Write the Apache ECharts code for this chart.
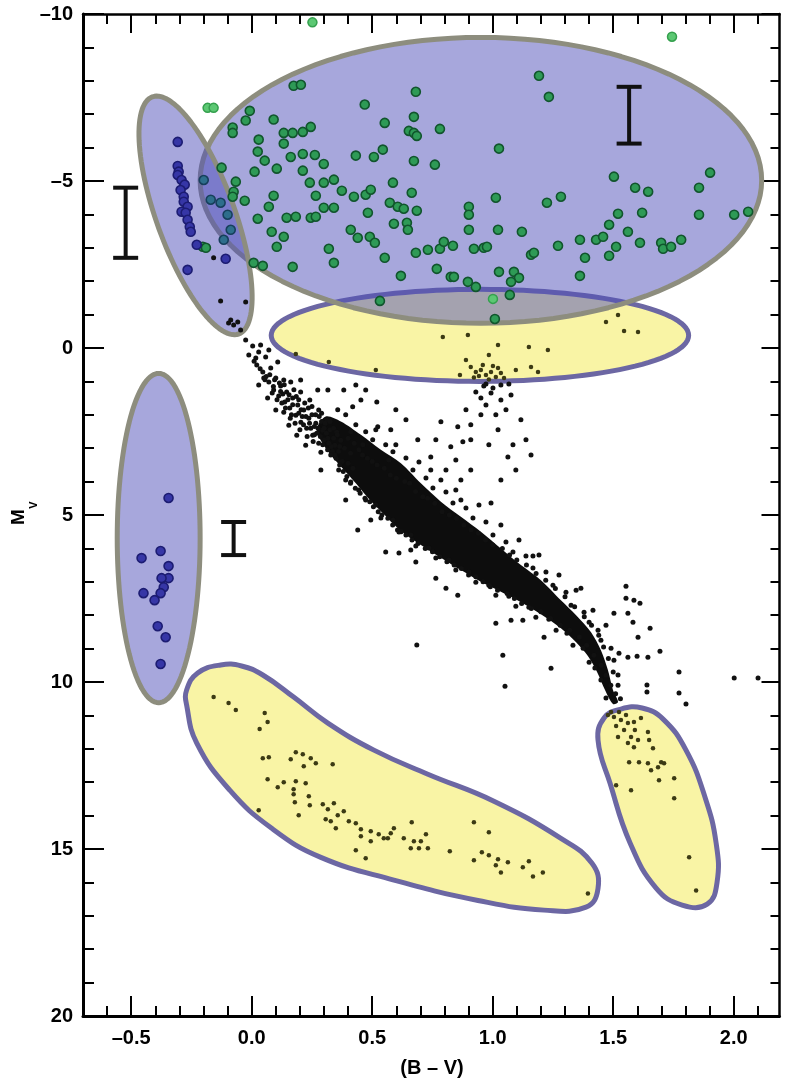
<!DOCTYPE html>
<html><head><meta charset="utf-8">
<script src="https://cdn.jsdelivr.net/npm/echarts@6/dist/echarts.min.js"></script>
<style>html,body{margin:0;padding:0;background:#fff}#c{width:785px;height:1083px}</style>
</head><body><div id="c"></div>
<script>
// ---------- tick labels ----------
const xMajorTicks = [-0.5, 0, 0.5, 1, 1.5, 2];
const xMinorTicks = [-0.6,-0.4,-0.3,-0.2,-0.1,0.1,0.2,0.3,0.4,0.6,0.7,0.8,0.9,1.1,1.2,1.3,1.4,1.6,1.7,1.8,1.9,2.1];
const yMajorStep = 5;

// ---------- stars: [B-V, Mv] ----------
const greenOutside = [[0.252,-9.75],[1.744,-9.32],[-0.183,-7.19],[-0.158,-7.19],[1.001,-1.47]];
const greenInside = [[0.174,-7.85],[0.204,-7.88],[-0.008,-7.10],[-0.025,-6.81],[-0.079,-6.60],[-0.079,-6.44],[0.091,-6.84],[0.133,-6.44],[0.170,-6.44],[0.212,-6.47],[0.245,-6.62],[0.029,-6.24],[0.025,-5.88],[0.133,-6.12],[0.054,-5.61],[0.162,-5.72],[0.212,-5.81],[0.262,-5.78],[0.299,-5.51],[-0.125,-5.40],[0.012,-5.28],[0.104,-5.37],[0.212,-5.31],[-0.066,-4.98],[-0.075,-4.68],[-0.079,-4.53],[-0.029,-4.41],[0.241,-4.95],[0.299,-4.95],[0.341,-5.04],[0.266,-4.56],[0.091,-4.56],[0.071,-4.23],[0.374,-4.71],[0.424,-4.53],[0.473,-4.59],[0.494,-4.74],[0.432,-5.76],[0.507,-5.72],[0.544,-5.94],[0.469,-7.29],[0.552,-6.74],[0.673,-6.92],[0.681,-7.67],[0.652,-6.50],[0.673,-6.44],[0.685,-6.35],[0.781,-6.56],[0.673,-5.60],[0.760,-5.49],[0.586,-4.95],[0.664,-4.65],[0.573,-4.35],[0.606,-4.23],[0.631,-4.17],[0.685,-4.11],[0.482,-4.05],[0.590,-3.72],[0.644,-3.75],[0.648,-3.54],[0.025,-3.87],[0.145,-3.90],[0.183,-3.93],[0.245,-3.90],[0.266,-3.93],[0.299,-4.20],[0.341,-4.20],[0.083,-3.48],[0.133,-3.33],[0.104,-3.03],[0.411,-3.54],[0.440,-3.30],[0.490,-3.33],[0.511,-3.15],[0.320,-2.97],[0.341,-2.55],[0.552,-2.70],[0.170,-2.43],[0.008,-2.55],[0.046,-2.46],[0.619,-2.16],[0.681,-2.85],[0.731,-2.94],[0.781,-2.97],[0.797,-3.18],[0.835,-3.06],[0.768,-2.37],[0.826,-2.13],[0.839,-2.13],[0.901,-4.23],[0.901,-3.99],[0.901,-3.54],[0.922,-2.97],[0.963,-3.00],[0.976,-3.03],[0.897,-1.98],[0.930,-1.83],[1.013,-4.50],[1.022,-3.54],[1.026,-2.28],[1.026,-5.97],[-0.203,-3.03],[-0.190,-3.00],[1.192,-8.15],[1.233,-7.52],[1.225,-4.35],[1.283,-4.53],[1.503,-5.13],[1.591,-4.80],[1.645,-4.68],[1.856,-4.80],[1.902,-5.25],[1.520,-4.02],[1.620,-4.05],[1.856,-3.99],[2.002,-3.99],[2.060,-4.08],[1.121,-3.48],[1.271,-3.06],[1.362,-3.24],[1.159,-2.79],[1.171,-2.85],[1.383,-2.70],[1.429,-3.24],[1.458,-3.33],[1.483,-3.69],[1.512,-3.03],[1.483,-2.76],[1.561,-3.48],[1.611,-3.15],[1.699,-3.15],[1.707,-2.97],[1.740,-3.03],[1.782,-3.24],[1.362,-2.16],[1.088,-2.28],[1.109,-2.10],[1.076,-1.98],[1.071,-1.59],[1.009,-0.87],[0.532,-1.41]];
const blueUpper = [[-0.307,-6.17],[-0.307,-5.45],[-0.303,-5.28],[-0.307,-5.18],[-0.291,-5.03],[-0.278,-4.89],[-0.295,-4.73],[-0.282,-4.53],[-0.282,-4.38],[-0.266,-4.23],[-0.291,-4.08],[-0.274,-4.05],[-0.266,-3.84],[-0.257,-3.63],[-0.253,-3.48],[-0.228,-3.09],[-0.108,-2.67],[-0.266,-2.34]];
const blueLens = [[-0.199,-5.03],[-0.170,-4.44],[-0.129,-4.35],[-0.100,-3.99],[-0.087,-3.54],[-0.116,-3.24]];
const blueLower = [[-0.345,4.49],[-0.378,6.08],[-0.457,6.29],[-0.345,6.53],[-0.345,6.89],[-0.374,6.89],[-0.365,7.16],[-0.378,7.34],[-0.449,7.34],[-0.403,7.55],[-0.390,8.33],[-0.357,8.66],[-0.378,9.46]];
const msStars = [[-0.158,-2.70],[-0.129,-1.41],[-0.025,-1.38],[-0.096,-0.75],[-0.075,-0.69],[-0.058,-0.78],[-0.087,-0.84],
[-0.046,-0.54],[-0.025,-0.24],[0.004,-0.06],[0.029,0.12],[-0.012,0.21],[0.058,0.27],[0.021,0.51],[0.079,0.60],[0.046,0.72],[0.100,0.90],[0.071,1.02],[0.120,1.14],[0.091,1.26],[0.145,1.32],[0.112,1.44],[0.170,1.50],[0.137,1.62],[0.191,1.71],[0.158,1.80],[0.216,1.86],[0.183,2.01],[0.133,1.92],[0.237,2.10],[0.204,2.22],[0.266,2.25],[0.228,2.40],[0.295,2.46],[0.253,2.61],[0.316,2.70],[0.278,2.85],[0.345,2.91],[0.037,-0.09],[0.071,0.06],[0.017,0.30],[0.108,0.42],[0.050,0.90],[0.162,1.02],[0.129,1.38],[0.203,1.32],[0.241,1.56],[0.278,1.86],[0.311,2.16],[0.353,2.52],[0.370,2.76],[0.187,2.61],[0.224,2.91],[0.287,3.12],[0.154,2.31],[0.100,1.86],[0.066,1.50],[0.029,1.11],
[0.150,1.55],[0.175,1.25],[0.195,1.95],[0.220,1.65],[0.250,2.00],[0.260,2.35],[0.290,2.20],[0.300,2.75],[0.325,2.45],[0.330,2.95],[0.210,2.05],[0.240,2.25],[0.270,2.55],[0.165,2.00],[0.125,1.65],[0.090,1.15],[0.060,0.85],[0.115,1.05],[0.185,1.45],[0.235,1.80],[0.280,2.05],[0.300,2.40],[0.340,2.70],[0.315,3.05],[0.255,2.80],[0.350,3.30],[0.360,3.10],[0.375,3.40],[0.385,3.00],[0.400,3.45],[0.410,3.15],[0.420,3.60],
[0.010,0.40],[0.035,0.62],[0.055,0.95],[0.075,0.80],[0.085,1.35],[0.095,0.95],[0.105,1.55],[0.120,1.30],[0.135,1.10],[0.140,1.80],[0.155,1.40],[0.160,2.10],[0.170,1.70],[0.180,2.25],[0.195,1.55],[0.200,2.45],[0.205,1.85],[0.215,2.30],[0.225,2.05],[0.230,2.65],[0.245,2.40],[0.250,1.75],[0.260,2.60],[0.265,2.00],[0.275,2.40],[0.285,2.65],[0.290,1.95],[0.295,2.90],[0.305,2.25],[0.310,2.55],[0.320,2.85],[0.325,2.20],[0.335,3.10],[0.340,2.40],[0.345,3.20],[0.355,2.60],[0.365,2.95],[0.365,3.50],[0.380,3.70],[0.395,3.85],[0.400,2.70],[0.410,4.05],[0.425,2.85],[0.430,4.20],[0.445,3.05],[0.450,4.35],[0.460,3.20],[0.470,4.50],[0.480,3.30],[0.490,4.60],[0.500,3.40],[0.505,4.75],[0.520,3.50],[0.525,4.90],[0.540,5.00],[0.550,3.60],[0.565,5.10],[0.575,3.80],[0.585,5.30],[0.600,3.90],[0.605,5.45],[0.620,5.50],[0.635,4.00],[0.640,5.60],[0.655,4.05],[0.665,5.75],[0.680,4.30],[0.690,5.85],[0.710,4.45],[0.720,6.00],[0.730,4.50],[0.750,6.10],[0.760,4.65],[0.780,6.25],[0.790,4.90],[0.810,6.40],[0.820,5.00],[0.840,6.50],[0.850,5.10],[0.870,6.60],[0.880,5.30],[0.900,6.80],[0.910,5.45],[0.930,6.85],[0.940,5.55],[0.960,7.00],[0.970,5.75],[0.990,7.15],[1.000,5.90],[1.020,7.25],[1.040,6.00],[1.060,7.35],[1.070,6.20],[1.090,7.50],[1.100,6.35],[1.120,7.65],[1.140,6.50],[1.160,7.80],[1.180,6.75],[1.200,7.90],[1.220,6.95],[1.240,8.10],[1.260,7.20],[1.280,8.30],[1.300,7.45],[1.320,8.45],[1.340,7.75],[1.360,8.65],[1.380,8.05],[1.390,8.90],[1.410,8.30],[1.420,9.20],[1.440,8.60],[1.450,9.50],[1.460,8.95],[1.470,9.80],[1.480,9.30],[1.490,10.10],[1.500,9.70],[1.510,10.35],[1.520,10.10],[1.530,10.50],
[0.390,2.00],[0.432,2.30],[0.473,2.51],[0.502,2.75],[0.556,2.90],[0.586,3.11],[0.640,3.29],[0.669,3.65],[0.723,3.89],[0.752,4.19],[0.806,4.31],[0.835,4.64],[0.889,4.79],[0.918,5.09],[0.972,5.21],[1.001,5.60],[1.055,5.81],[1.084,6.11],[1.138,6.23],[1.167,6.59],[1.221,6.71],[1.250,7.10],[1.304,7.31],[1.325,7.70],[1.379,7.91],[1.400,8.21],[1.437,8.45],[1.449,8.75],[1.491,8.99],[1.503,9.35],[1.520,9.79],
[0.411,2.51],[0.461,2.90],[0.515,2.45],[0.598,2.90],[0.569,3.35],[0.694,3.41],[0.743,3.65],[0.785,3.95],[0.847,4.25],[0.868,4.55],[0.943,4.70],[1.034,5.30],[1.109,5.75],[1.192,6.20],[1.275,6.80],[1.346,7.25],[1.416,7.85],[1.470,8.30],
[0.328,3.20],[0.361,3.65],[0.411,4.01],[0.444,4.25],[0.473,4.55],[0.515,4.70],[0.536,5.09],[0.586,5.15],[0.611,5.51],[0.660,5.60],[0.681,5.93],[0.735,5.99],[0.764,6.29],[0.818,6.35],[0.847,6.65],[0.901,6.71],[0.930,7.01],[0.984,7.10],[1.013,7.40],[1.067,7.43],[1.096,7.73],[1.150,7.76],[1.179,8.06],[1.233,8.12],[1.263,8.45],[1.308,8.54],[1.333,8.90],[1.375,8.99],[1.400,9.41],[1.424,9.58],[1.449,9.94],[1.470,10.48],
[0.440,5.45],[0.556,6.11],[0.611,6.14],[0.660,6.05],[0.681,6.41],[0.764,6.89],[0.806,7.19],[0.855,7.40],[1.013,8.24],[1.076,8.15],[1.125,8.15],[1.213,8.66],[0.685,8.89],[1.042,9.20],[1.242,9.59],[1.051,10.13],[0.287,3.65],[0.390,4.55],[0.494,5.15],[0.390,3.95],
[0.453,1.56],[0.419,1.76],[0.357,1.85],[0.382,1.26],[0.316,1.26],[0.274,1.26],[0.203,0.96],[0.133,0.96],[0.523,2.36],[0.577,2.45],[0.689,2.75],[0.743,3.26],[0.826,2.96],[0.909,2.75],[0.785,2.21],[0.855,2.36],[0.951,1.50],[0.993,1.35],[1.022,2.45],[1.063,3.26],[0.993,4.64],[0.909,3.65],[0.868,3.95],[0.806,3.65],[1.117,2.15],[1.076,1.41],[1.138,2.75],[0.951,2.00],[1.055,1.85],[0.889,1.85],[0.847,3.35],[1.034,3.95],[1.096,3.65],[1.001,1.20],[0.930,1.32],[1.034,1.56],[0.972,1.71],[1.013,2.00],[0.909,2.30],[1.159,3.20],[1.084,2.90],[0.984,2.90],[0.876,2.81],[0.764,2.75],[0.640,2.15],[0.598,1.85],[0.519,1.62],[0.473,1.26],[0.432,1.11],[1.034,1.11],[1.067,1.08],[0.963,1.14],[0.972,1.08],
[1.167,6.23],[1.366,7.19],[1.553,7.13],[1.553,7.49],[1.586,7.55],[1.611,7.64],[1.503,7.94],[1.561,7.94],[1.582,8.21],[1.653,8.39],[1.603,8.66],[1.694,9.08],[1.524,9.14],[1.561,9.26],[1.599,9.23],[1.644,9.26],[1.773,9.70],[1.640,10.09],[1.640,10.30],[1.773,10.33],[1.802,10.66],[2.002,9.88],[2.101,9.88]];
const clumpStars = [[0.183,0.18],[0.320,0.42],[0.515,0.66],[0.793,-0.33],[0.897,-0.39],[1.022,-0.09],[1.150,-0.03],[1.229,0.06],[0.984,0.21],[1.188,0.72],[1.159,0.57],[1.470,-0.78],[1.545,-0.51],[1.603,-0.48],[1.520,-0.99],[0.909,0.57],[0.930,0.72],[0.951,0.66],[0.972,0.81],[0.993,0.72],[1.013,0.87],[1.034,0.75],[1.047,0.90],[0.943,0.84],[0.984,0.94],[0.959,0.51],[1.001,0.54],[0.922,0.88],[1.022,0.60],[1.096,0.66],[0.889,0.36],[0.864,0.81]];
const whiteDwarfStars = [[-0.158,10.45],[-0.096,10.63],[-0.066,10.84],[0.054,10.93],[0.066,11.20],[0.033,11.41],[0.046,12.28],[0.071,12.25],[0.183,12.10],[0.212,12.16],[0.245,12.28],[0.266,12.43],[0.162,12.31],[0.216,12.52],[0.336,12.46],[0.066,12.91],[0.133,13.00],[0.108,13.15],[0.183,12.97],[0.224,13.03],[0.174,13.21],[0.174,13.36],[0.179,13.60],[0.237,13.42],[0.241,13.69],[0.029,13.84],[0.195,13.99],[0.295,13.66],[0.316,13.81],[0.341,13.63],[0.357,13.99],[0.307,14.11],[0.328,14.17],[0.382,13.87],[0.349,14.38],[0.403,14.17],[0.432,14.23],[0.453,14.41],[0.453,14.62],[0.494,14.47],[0.527,14.56],[0.548,14.68],[0.577,14.53],[0.590,14.38],[0.494,14.77],[0.565,14.68],[0.432,15.04],[0.473,15.28],[0.631,14.68],[0.660,14.98],[0.673,14.77],[0.694,14.98],[0.702,14.77],[0.731,14.98],[0.723,14.56],[0.664,14.20],[0.822,15.07],[0.922,14.20],[0.984,14.50],[0.922,15.34],[0.955,15.10],[0.984,15.19],[1.013,15.49],[1.022,15.31],[1.034,15.70],[1.063,15.40],[1.125,15.55],[1.150,15.37],[1.167,15.82],[1.208,15.70],[1.395,16.33]];
const redDwarfStars = [[1.503,11.05],[1.532,11.14],[1.561,11.23],[1.586,11.20],[1.545,11.44],[1.520,11.65],[1.574,11.65],[1.603,11.74],[1.561,11.83],[1.586,11.95],[1.644,11.50],[1.649,11.74],[1.665,11.98],[1.566,12.40],[1.607,12.40],[1.644,12.43],[1.657,12.64],[1.686,12.55],[1.699,12.40],[1.711,12.43],[1.690,12.94],[1.753,12.88],[1.512,13.09],[1.574,13.24],[1.753,13.48],[1.815,15.25],[1.844,16.24],[1.491,10.90],[1.524,10.90],[1.553,10.99],[1.478,10.99],[1.615,11.08],[1.512,11.32],[1.590,11.44]];

// ---------- dense main-sequence envelope and region outlines ----------
const msCoreOutline = [[0.307,2.05],[0.370,2.20],[0.453,2.60],[0.536,3.05],[0.619,3.45],[0.702,4.05],[0.785,4.60],[0.868,5.05],[0.951,5.50],[1.034,6.00],[1.117,6.50],[1.200,6.95],[1.283,7.55],[1.346,8.00],[1.408,8.51],[1.449,9.05],[1.478,9.64],[1.499,10.24],[1.520,10.60],[1.499,10.66],[1.466,10.24],[1.433,9.70],[1.395,9.22],[1.346,8.81],[1.283,8.39],[1.200,7.97],[1.117,7.61],[1.034,7.30],[0.951,7.00],[0.868,6.65],[0.785,6.28],[0.702,5.90],[0.619,5.48],[0.556,5.03],[0.494,4.58],[0.432,4.05],[0.370,3.55],[0.307,3.00],[0.270,2.45]];
const wdRegionOutline = [[-0.129,9.49],[-0.224,9.73],[-0.270,10.24],[-0.270,10.69],[-0.228,11.83],[-0.091,13.24],[0.083,14.38],[0.287,15.25],[0.590,15.93],[0.939,16.54],[1.213,16.83],[1.387,16.74],[1.437,16.18],[1.412,15.43],[1.283,14.68],[1.005,13.57],[0.731,12.76],[0.507,12.04],[0.316,11.23],[0.174,10.45],[0.046,9.79],[-0.042,9.52]];
const rdRegionOutline = [[1.532,10.81],[1.462,11.08],[1.437,11.74],[1.487,13.03],[1.570,14.82],[1.678,16.17],[1.786,16.68],[1.890,16.65],[1.931,15.99],[1.927,14.82],[1.881,13.45],[1.802,12.04],[1.707,11.11],[1.620,10.78]];
// ellipses: [centre B-V, centre Mv, axis1 dBV, axis1 dMv, axis2 dBV, axis2 dMv]
const ellSupergiants = [0.951, -5.02, 1.165, 0, 0, 4.28];
const ellBrightBlue = [-0.233, -3.97, 0.179, 3.55, -0.152, 0.40];
const ellLowerBlue = [-0.386, 5.69, 0.172, 0, 0, 4.93];
const ellRedGiants = [0.947, -0.378, 0.866, 0, 0, 1.378];

// ---------- typical error bars ----------
const errBarX = [-0.523, 1.566, -0.075];
const errBarTop = [-4.80, -7.82, 5.21];
const errBarBottom = [-2.70, -6.12, 6.20];

// ---------- rendering ----------
const FONT = '"Liberation Sans", Arial, Helvetica, sans-serif';
function ellPts(api, e) {
  const pts = [];
  for (let i = 0; i < 120; i++) {
    const t = i / 120 * Math.PI * 2;
    pts.push(api.coord([e[0] + e[2] * Math.cos(t) + e[4] * Math.sin(t), e[1] + e[3] * Math.cos(t) + e[5] * Math.sin(t)]));
  }
  return pts;
}
function outPts(api, arr) { return arr.map(p => api.coord(p)); }
function shape(id, getPts, fill, stroke, lw, z, smooth) {
  return {
    type: 'custom', id: id, coordinateSystem: 'cartesian2d', data: [[0.5, 5]], z: z, silent: true, clip: false,
    renderItem: (p, api) => ({
      type: 'polygon',
      shape: { points: getPts(api), smooth: smooth || 0 },
      style: { fill: fill, stroke: stroke || null, lineWidth: lw, lineJoin: 'round' }
    })
  };
}
const YELLOW = '#f9f4a5', PURPLE = '#6c67a3', BLUE = 'rgba(80,80,185,0.5)', GREY = '#8d8d7e';

const series = [
  shape('rg', api => ellPts(api, ellRedGiants), YELLOW, PURPLE, 5, 1),
  shape('wd', api => outPts(api, wdRegionOutline), YELLOW, PURPLE, 5, 1, 0.45),
  shape('rd', api => outPts(api, rdRegionOutline), YELLOW, PURPLE, 5, 1, 0.45),
  shape('sg', api => ellPts(api, ellSupergiants), BLUE, GREY, 5, 2),
  shape('bb', api => ellPts(api, ellBrightBlue), BLUE, GREY, 5, 2),
  shape('lb', api => ellPts(api, ellLowerBlue), BLUE, GREY, 5, 2),
  shape('core', api => outPts(api, msCoreOutline), '#0d0d0d', null, 0, 3, 0.3),
  { type: 'scatter', data: msStars, symbolSize: 5, z: 4, silent: true, itemStyle: { color: '#111', opacity: 1 } },
  { type: 'scatter', data: clumpStars.concat(whiteDwarfStars, redDwarfStars), symbolSize: 4.5, z: 4, silent: true, itemStyle: { color: '#3c3a14', opacity: 1 } },
  { type: 'scatter', data: greenInside, symbolSize: 9, z: 5, silent: true, itemStyle: { color: '#2e9a56', borderColor: '#11552d', borderWidth: 1.6, opacity: 1 } },
  { type: 'scatter', data: greenOutside, symbolSize: 9, z: 5, silent: true, itemStyle: { color: '#5cc873', borderColor: '#35a04e', borderWidth: 1.5, opacity: 1 } },
  { type: 'scatter', data: blueUpper.concat(blueLower), symbolSize: 9, z: 5, silent: true, itemStyle: { color: '#3636a6', borderColor: '#1c1c72', borderWidth: 1.6, opacity: 1 } },
  { type: 'scatter', data: blueLens, symbolSize: 9, z: 5, silent: true, itemStyle: { color: '#2e6e8c', borderColor: '#173f5c', borderWidth: 1.6, opacity: 1 } },
  {
    type: 'custom', coordinateSystem: 'cartesian2d', z: 6, silent: true, clip: false,
    encode: { x: 0, y: [1, 2] },
    data: errBarX.map((x, i) => [x, errBarTop[i], errBarBottom[i]]),
    renderItem: (p, api) => {
      const a = api.coord([api.value(0), api.value(1)]);
      const b = api.coord([api.value(0), api.value(2)]);
      const w = 12.5, st = { stroke: '#111', lineWidth: 4 };
      return { type: 'group', children: [
        { type: 'line', shape: { x1: a[0], y1: a[1], x2: b[0], y2: b[1] }, style: st },
        { type: 'line', shape: { x1: a[0] - w, y1: a[1], x2: a[0] + w, y2: a[1] }, style: st },
        { type: 'line', shape: { x1: b[0] - w, y1: b[1], x2: b[0] + w, y2: b[1] }, style: st }
      ]};
    }
  }
];

const xRange = { min: -0.7, max: 2.19 };
function xAx(pos, ticks, len, showLine, lw, labels) {
  return Object.assign({
    type: 'value', position: pos, splitLine: { show: false },
    axisLine: { show: showLine, onZero: false, lineStyle: { color: '#000', width: lw } },
    axisTick: { show: true, inside: true, length: len, customValues: ticks, lineStyle: { color: '#000', width: 2 } },
    axisLabel: labels ? {
      customValues: ticks, margin: 12, color: '#000', fontSize: 20, fontWeight: 'bold', fontFamily: FONT,
      formatter: v => (v < 0 ? '\u2013' + Math.abs(v).toFixed(1) : v.toFixed(1))
    } : { show: false }
  }, xRange);
}
function yAx(pos, lw, labels, major, minor) {
  return {
    type: 'value', position: pos, inverse: true, min: -10, max: 20, interval: yMajorStep,
    splitLine: { show: false },
    axisLine: { show: true, onZero: false, lineStyle: { color: '#000', width: lw } },
    axisTick: { show: true, inside: true, length: major, lineStyle: { color: '#000', width: 2 } },
    minorTick: { show: true, splitNumber: 5, length: minor, lineStyle: { color: '#000', width: 2 } },
    axisLabel: labels ? {
      margin: 10, color: '#000', fontSize: 20, fontWeight: 'bold', fontFamily: FONT,
      formatter: v => (v < 0 ? '\u2013' + Math.abs(v) : String(v))
    } : { show: false }
  };
}

const chart = echarts.init(document.getElementById('c'));
chart.setOption({
  animation: false,
  backgroundColor: '#fff',
  grid: { left: 83, right: 5.5, top: 14, bottom: 67, containLabel: false },
  xAxis: [
    xAx('bottom', xMajorTicks, 20, true, 3, true),
    xAx('bottom', xMinorTicks, 10, false, 3, false),
    xAx('top', xMajorTicks, 19, true, 2.5, false),
    xAx('top', xMinorTicks, 10, false, 2.5, false)
  ],
  yAxis: [
    yAx('left', 3, true, 21, 11),
    yAx('right', 2.5, false, 18, 9)
  ],
  graphic: [
    { type: 'text', x: 18.5, y: 517, rotation: Math.PI / 2, style: { text: 'M', font: 'bold 19px ' + FONT, fill: '#000', align: 'center', verticalAlign: 'middle' } },
    { type: 'text', x: 33.5, y: 505, rotation: Math.PI / 2, style: { text: 'V', font: 'bold 11px ' + FONT, fill: '#000', align: 'center', verticalAlign: 'middle' } },
    { type: 'text', x: 432, y: 1068, style: { text: '(B \u2013 V)', font: 'bold 20px ' + FONT, fill: '#000', align: 'center', verticalAlign: 'middle' } }
  ],
  series: series
});
</script>
</body></html>
